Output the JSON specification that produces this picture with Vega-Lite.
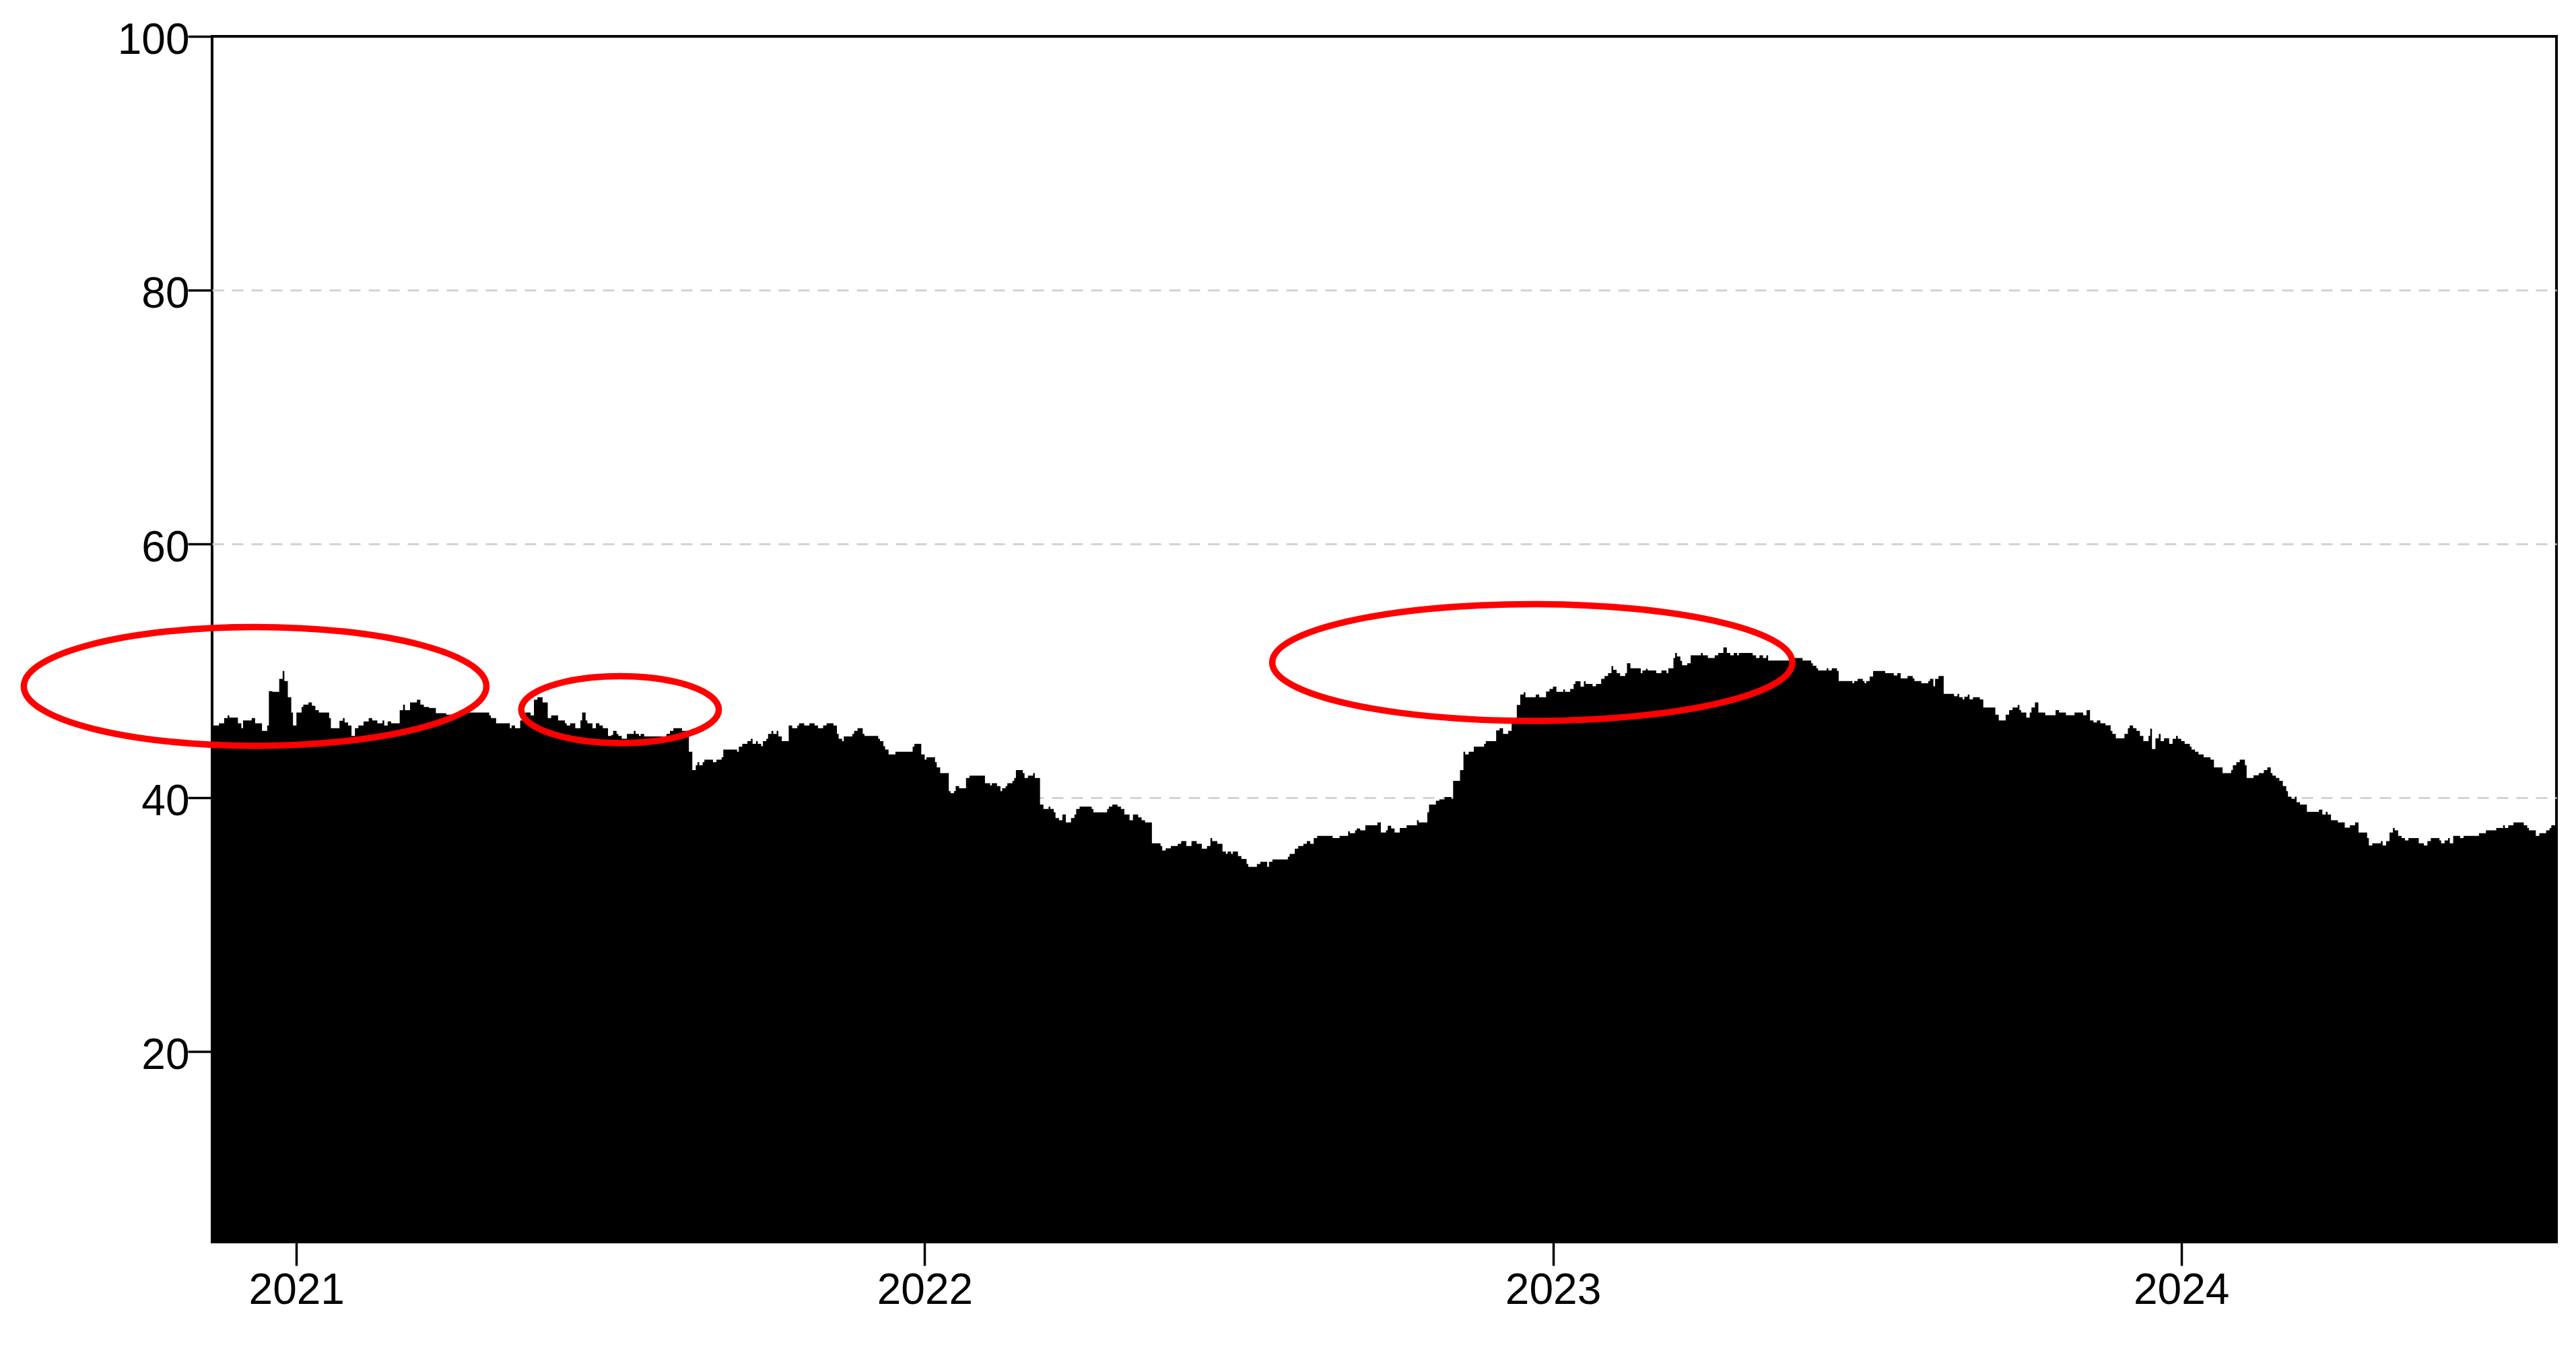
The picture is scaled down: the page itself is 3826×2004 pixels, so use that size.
{
"$schema": "https://vega.github.io/schema/vega-lite/v6.json",
"width": 3482, "height": 1791,
"autosize": {"type": "none"},
"padding": {"left": 315, "top": 54, "right": 29, "bottom": 159},
"background": "white",
"config": {"view": {"stroke": "black", "strokeWidth": 4}},
"encoding": {
 "x": {"field": "date", "type": "temporal",
  "scale": {"domain": [{"year": 2020, "month": 11, "date": 13, "utc": true}, {"year": 2024, "month": 8, "date": 6, "utc": true}], "nice": false},
  "axis": {"format": "%Y", "tickCount": {"interval": "year", "step": 1}, "grid": false, "domain": false, "tickSize": 35, "tickWidth": 3.5, "tickColor": "black", "labelFont": "Liberation Sans", "labelFontSize": 64, "labelColor": "black", "labelPadding": 5, "labelFlush": false, "labelOverlap": false, "title": null}},
 "y": {"field": "value", "type": "quantitative",
  "scale": {"domain": [5, 100], "nice": false, "zero": false},
  "axis": {"values": [20, 40, 60, 80, 100], "grid": true, "gridColor": {"condition": {"test": "datum.value > 90 || datum.value < 30", "value": "transparent"}, "value": "#D3D3D3"}, "gridDash": [17, 12], "gridWidth": 3, "domain": false, "tickSize": 36, "tickWidth": 3.5, "tickColor": "black", "labelFont": "Liberation Sans", "labelFontSize": 64, "labelColor": "black", "labelPadding": -2, "labelOffset": 6, "labelFlush": false, "title": null}}
},
"layer": [
{
"data": {"values": [
{"date":"2020-11-13","value":45.70},{"date":"2020-11-17","value":45.87},{"date":"2020-11-20","value":46.28},{"date":"2020-11-22","value":46.49},{"date":"2020-11-23","value":46.32},{"date":"2020-11-28","value":45.87},{"date":"2020-11-30","value":45.48},{"date":"2020-12-01","value":46.10},{"date":"2020-12-06","value":46.28},{"date":"2020-12-08","value":45.87},{"date":"2020-12-12","value":45.27},{"date":"2020-12-15","value":45.70},{"date":"2020-12-16","value":48.40},{"date":"2020-12-18","value":48.35},{"date":"2020-12-22","value":49.37},{"date":"2020-12-24","value":49.99},{"date":"2020-12-25","value":49.20},{"date":"2020-12-27","value":47.92},{"date":"2020-12-29","value":46.72},{"date":"2020-12-30","value":45.70},
{"date":"2021-01-01","value":46.72},{"date":"2021-01-04","value":47.16},{"date":"2021-01-05","value":47.34},{"date":"2021-01-08","value":47.52},{"date":"2021-01-10","value":47.25},{"date":"2021-01-12","value":46.90},{"date":"2021-01-14","value":46.72},{"date":"2021-01-20","value":46.28},{"date":"2021-01-21","value":45.48},{"date":"2021-01-26","value":46.07},{"date":"2021-01-28","value":46.28},{"date":"2021-01-29","value":45.93},{"date":"2021-01-31","value":45.70},
{"date":"2021-02-02","value":44.87},{"date":"2021-02-04","value":45.48},{"date":"2021-02-06","value":45.70},{"date":"2021-02-09","value":46.02},{"date":"2021-02-12","value":46.28},{"date":"2021-02-14","value":46.10},{"date":"2021-02-17","value":45.87},{"date":"2021-02-20","value":46.10},{"date":"2021-02-21","value":45.70},{"date":"2021-02-23","value":46.02},{"date":"2021-02-25","value":45.87},
{"date":"2021-03-02","value":46.90},{"date":"2021-03-04","value":47.34},{"date":"2021-03-05","value":46.90},{"date":"2021-03-08","value":47.52},{"date":"2021-03-12","value":47.73},{"date":"2021-03-14","value":47.34},{"date":"2021-03-16","value":47.16},{"date":"2021-03-19","value":47.08},{"date":"2021-03-23","value":46.67},{"date":"2021-03-29","value":46.55},
{"date":"2021-04-06","value":46.72},{"date":"2021-04-23","value":46.49},{"date":"2021-04-24","value":46.28},{"date":"2021-04-27","value":45.87},
{"date":"2021-05-05","value":45.48},{"date":"2021-05-06","value":45.70},{"date":"2021-05-08","value":45.48},{"date":"2021-05-11","value":46.10},{"date":"2021-05-14","value":46.72},{"date":"2021-05-17","value":46.49},{"date":"2021-05-19","value":47.73},{"date":"2021-05-21","value":47.92},{"date":"2021-05-24","value":47.52},{"date":"2021-05-27","value":46.28},{"date":"2021-05-29","value":46.49},
{"date":"2021-06-02","value":46.10},{"date":"2021-06-06","value":45.87},{"date":"2021-06-07","value":45.70},{"date":"2021-06-09","value":45.87},{"date":"2021-06-12","value":45.48},{"date":"2021-06-15","value":46.10},{"date":"2021-06-16","value":46.72},{"date":"2021-06-18","value":46.10},{"date":"2021-06-19","value":45.87},{"date":"2021-06-22","value":45.48},{"date":"2021-06-24","value":45.87},{"date":"2021-06-26","value":45.70},{"date":"2021-06-28","value":45.48},
{"date":"2021-07-01","value":44.87},{"date":"2021-07-03","value":44.95},{"date":"2021-07-04","value":45.27},{"date":"2021-07-06","value":45.04},{"date":"2021-07-07","value":44.87},{"date":"2021-07-09","value":44.65},{"date":"2021-07-12","value":45.04},{"date":"2021-07-16","value":45.27},{"date":"2021-07-17","value":45.04},{"date":"2021-07-19","value":44.87},{"date":"2021-07-20","value":45.04},{"date":"2021-07-22","value":44.83},
{"date":"2021-08-04","value":45.04},{"date":"2021-08-06","value":45.27},{"date":"2021-08-08","value":45.48},{"date":"2021-08-13","value":45.27},{"date":"2021-08-17","value":43.63},{"date":"2021-08-19","value":42.18},{"date":"2021-08-21","value":42.57},{"date":"2021-08-22","value":42.80},{"date":"2021-08-23","value":42.57},{"date":"2021-08-25","value":42.80},{"date":"2021-08-26","value":43.01},{"date":"2021-08-31","value":42.80},
{"date":"2021-09-02","value":43.01},{"date":"2021-09-05","value":43.19},{"date":"2021-09-06","value":43.80},{"date":"2021-09-14","value":43.63},{"date":"2021-09-15","value":44.02},{"date":"2021-09-17","value":44.25},{"date":"2021-09-20","value":44.46},{"date":"2021-09-22","value":44.65},{"date":"2021-09-23","value":44.25},{"date":"2021-09-25","value":44.46},{"date":"2021-09-26","value":44.25},{"date":"2021-09-28","value":44.07},{"date":"2021-09-29","value":44.46},
{"date":"2021-10-01","value":44.65},{"date":"2021-10-02","value":45.04},{"date":"2021-10-04","value":45.27},{"date":"2021-10-05","value":45.04},{"date":"2021-10-07","value":45.27},{"date":"2021-10-08","value":44.83},{"date":"2021-10-10","value":44.46},{"date":"2021-10-14","value":45.70},{"date":"2021-10-16","value":45.48},{"date":"2021-10-19","value":45.70},{"date":"2021-10-20","value":45.87},{"date":"2021-10-23","value":45.70},{"date":"2021-10-26","value":45.87},{"date":"2021-10-29","value":45.70},{"date":"2021-10-31","value":45.48},
{"date":"2021-11-03","value":45.70},{"date":"2021-11-05","value":45.87},{"date":"2021-11-09","value":45.70},{"date":"2021-11-11","value":45.04},{"date":"2021-11-12","value":44.65},{"date":"2021-11-14","value":44.46},{"date":"2021-11-15","value":44.83},{"date":"2021-11-20","value":45.04},{"date":"2021-11-21","value":45.27},{"date":"2021-11-23","value":45.48},{"date":"2021-11-26","value":45.04},{"date":"2021-11-27","value":44.87},
{"date":"2021-12-05","value":44.65},{"date":"2021-12-06","value":44.46},{"date":"2021-12-08","value":44.07},{"date":"2021-12-09","value":43.80},{"date":"2021-12-11","value":43.42},{"date":"2021-12-15","value":43.63},{"date":"2021-12-25","value":44.02},{"date":"2021-12-26","value":44.25},{"date":"2021-12-30","value":43.42},
{"date":"2022-01-01","value":43.01},{"date":"2022-01-02","value":43.19},{"date":"2022-01-07","value":42.80},{"date":"2022-01-08","value":42.39},{"date":"2022-01-10","value":41.95},{"date":"2022-01-15","value":40.53},{"date":"2022-01-16","value":40.36},{"date":"2022-01-18","value":40.53},{"date":"2022-01-19","value":40.92},{"date":"2022-01-21","value":40.75},{"date":"2022-01-25","value":41.56},{"date":"2022-01-27","value":41.74},
{"date":"2022-02-05","value":41.15},{"date":"2022-02-08","value":40.98},{"date":"2022-02-09","value":41.15},{"date":"2022-02-12","value":40.92},{"date":"2022-02-14","value":40.53},{"date":"2022-02-15","value":40.75},{"date":"2022-02-17","value":40.92},{"date":"2022-02-18","value":41.15},{"date":"2022-02-21","value":41.33},{"date":"2022-02-22","value":41.56},{"date":"2022-02-23","value":42.18},{"date":"2022-02-27","value":41.95},{"date":"2022-02-28","value":41.56},
{"date":"2022-03-02","value":41.74},{"date":"2022-03-05","value":41.95},{"date":"2022-03-06","value":41.56},{"date":"2022-03-09","value":39.47},{"date":"2022-03-11","value":39.12},{"date":"2022-03-14","value":39.30},{"date":"2022-03-15","value":39.12},{"date":"2022-03-17","value":38.85},{"date":"2022-03-18","value":38.41},{"date":"2022-03-20","value":38.23},{"date":"2022-03-22","value":38.68},{"date":"2022-03-24","value":38.06},{"date":"2022-03-27","value":38.41},{"date":"2022-03-29","value":38.68},{"date":"2022-03-30","value":39.12},
{"date":"2022-04-01","value":39.30},{"date":"2022-04-08","value":39.12},{"date":"2022-04-09","value":38.85},{"date":"2022-04-17","value":39.12},{"date":"2022-04-18","value":39.30},{"date":"2022-04-20","value":39.47},{"date":"2022-04-23","value":39.30},{"date":"2022-04-25","value":39.12},{"date":"2022-04-27","value":38.68},{"date":"2022-04-30","value":38.23},
{"date":"2022-05-02","value":38.68},{"date":"2022-05-05","value":38.46},{"date":"2022-05-07","value":38.23},{"date":"2022-05-09","value":38.06},{"date":"2022-05-13","value":36.41},{"date":"2022-05-18","value":36.20},{"date":"2022-05-19","value":35.85},{"date":"2022-05-21","value":36.02},{"date":"2022-05-24","value":36.20},{"date":"2022-05-28","value":36.38},{"date":"2022-05-30","value":36.59},
{"date":"2022-06-02","value":36.20},{"date":"2022-06-05","value":36.59},{"date":"2022-06-08","value":36.38},{"date":"2022-06-11","value":35.99},{"date":"2022-06-14","value":36.20},{"date":"2022-06-16","value":36.82},{"date":"2022-06-17","value":36.59},{"date":"2022-06-20","value":36.38},{"date":"2022-06-23","value":35.76},{"date":"2022-06-25","value":35.58},{"date":"2022-06-26","value":35.76},{"date":"2022-06-28","value":35.58},{"date":"2022-06-29","value":35.76},
{"date":"2022-07-02","value":35.41},{"date":"2022-07-04","value":35.18},{"date":"2022-07-07","value":34.79},{"date":"2022-07-08","value":34.56},{"date":"2022-07-13","value":34.79},{"date":"2022-07-15","value":34.96},{"date":"2022-07-19","value":34.56},{"date":"2022-07-20","value":34.96},{"date":"2022-07-22","value":35.14},{"date":"2022-07-31","value":35.35},
{"date":"2022-08-01","value":35.58},{"date":"2022-08-04","value":35.99},{"date":"2022-08-06","value":36.20},{"date":"2022-08-09","value":36.38},{"date":"2022-08-11","value":36.59},{"date":"2022-08-13","value":36.38},{"date":"2022-08-15","value":36.82},{"date":"2022-08-17","value":37.00},{"date":"2022-08-26","value":36.82},{"date":"2022-08-30","value":37.00},
{"date":"2022-09-04","value":37.35},{"date":"2022-09-05","value":37.21},{"date":"2022-09-08","value":37.44},{"date":"2022-09-09","value":37.58},{"date":"2022-09-11","value":37.44},{"date":"2022-09-14","value":37.84},{"date":"2022-09-21","value":38.06},{"date":"2022-09-23","value":37.26},{"date":"2022-09-26","value":37.44},{"date":"2022-09-27","value":37.79},{"date":"2022-09-29","value":37.58},
{"date":"2022-10-01","value":37.26},{"date":"2022-10-04","value":37.62},{"date":"2022-10-08","value":37.84},{"date":"2022-10-14","value":38.23},{"date":"2022-10-15","value":38.06},{"date":"2022-10-20","value":38.85},{"date":"2022-10-21","value":39.47},{"date":"2022-10-25","value":39.77},{"date":"2022-10-27","value":39.88},{"date":"2022-10-30","value":40.06},
{"date":"2022-11-03","value":39.91},{"date":"2022-11-04","value":41.33},{"date":"2022-11-08","value":42.18},{"date":"2022-11-10","value":43.63},{"date":"2022-11-11","value":43.42},{"date":"2022-11-13","value":43.63},{"date":"2022-11-16","value":44.02},{"date":"2022-11-22","value":44.25},{"date":"2022-11-23","value":44.46},{"date":"2022-11-29","value":45.31},
{"date":"2022-12-01","value":45.48},{"date":"2022-12-03","value":45.04},{"date":"2022-12-06","value":45.27},{"date":"2022-12-08","value":45.87},{"date":"2022-12-11","value":47.31},{"date":"2022-12-13","value":48.14},{"date":"2022-12-15","value":48.31},{"date":"2022-12-16","value":47.92},{"date":"2022-12-22","value":48.14},{"date":"2022-12-24","value":47.92},{"date":"2022-12-28","value":48.37},{"date":"2022-12-30","value":48.58},
{"date":"2023-01-01","value":48.76},{"date":"2023-01-03","value":48.35},{"date":"2023-01-07","value":48.54},{"date":"2023-01-08","value":48.35},{"date":"2023-01-11","value":48.58},{"date":"2023-01-13","value":48.97},{"date":"2023-01-14","value":49.18},{"date":"2023-01-17","value":48.76},{"date":"2023-01-19","value":49.18},{"date":"2023-01-20","value":48.97},{"date":"2023-01-24","value":48.79},{"date":"2023-01-26","value":48.97},{"date":"2023-01-29","value":49.37},{"date":"2023-01-31","value":49.60},
{"date":"2023-02-02","value":49.82},{"date":"2023-02-04","value":50.38},{"date":"2023-02-05","value":50.08},{"date":"2023-02-07","value":49.82},{"date":"2023-02-09","value":49.60},{"date":"2023-02-12","value":49.82},{"date":"2023-02-13","value":50.61},{"date":"2023-02-15","value":50.21},{"date":"2023-02-21","value":49.82},{"date":"2023-02-22","value":50.03},{"date":"2023-02-24","value":50.17},{"date":"2023-02-25","value":50.03},
{"date":"2023-03-02","value":49.82},{"date":"2023-03-05","value":50.03},{"date":"2023-03-08","value":49.82},{"date":"2023-03-09","value":50.21},{"date":"2023-03-12","value":51.02},{"date":"2023-03-13","value":51.41},{"date":"2023-03-14","value":51.14},{"date":"2023-03-16","value":50.79},{"date":"2023-03-17","value":50.44},{"date":"2023-03-20","value":50.61},{"date":"2023-03-22","value":51.23},{"date":"2023-03-28","value":51.41},{"date":"2023-03-29","value":51.23},
{"date":"2023-04-01","value":51.02},{"date":"2023-04-05","value":51.23},{"date":"2023-04-07","value":51.41},{"date":"2023-04-10","value":51.85},{"date":"2023-04-12","value":51.41},{"date":"2023-04-14","value":51.23},{"date":"2023-04-16","value":51.41},{"date":"2023-04-18","value":51.23},{"date":"2023-04-19","value":51.41},{"date":"2023-04-27","value":51.23},{"date":"2023-04-29","value":51.02},
{"date":"2023-05-01","value":51.23},{"date":"2023-05-03","value":51.02},{"date":"2023-05-05","value":51.23},{"date":"2023-05-06","value":50.82},{"date":"2023-05-19","value":51.02},{"date":"2023-05-26","value":50.82},{"date":"2023-05-31","value":50.61},
{"date":"2023-06-01","value":50.40},{"date":"2023-06-03","value":50.21},{"date":"2023-06-04","value":50.03},{"date":"2023-06-09","value":50.21},{"date":"2023-06-10","value":50.03},{"date":"2023-06-12","value":50.21},{"date":"2023-06-15","value":49.99},{"date":"2023-06-16","value":49.20},{"date":"2023-06-24","value":49.02},{"date":"2023-06-25","value":49.20},{"date":"2023-06-27","value":49.37},{"date":"2023-06-30","value":49.20},
{"date":"2023-07-01","value":49.02},{"date":"2023-07-02","value":49.20},{"date":"2023-07-04","value":49.55},{"date":"2023-07-06","value":49.99},{"date":"2023-07-13","value":49.82},{"date":"2023-07-18","value":49.64},{"date":"2023-07-20","value":49.82},{"date":"2023-07-22","value":49.41},{"date":"2023-07-26","value":49.59},{"date":"2023-07-29","value":49.41},{"date":"2023-07-30","value":49.20},
{"date":"2023-08-03","value":49.02},{"date":"2023-08-07","value":49.20},{"date":"2023-08-08","value":49.37},{"date":"2023-08-10","value":48.79},{"date":"2023-08-11","value":49.37},{"date":"2023-08-13","value":49.59},{"date":"2023-08-16","value":48.19},{"date":"2023-08-22","value":48.01},{"date":"2023-08-24","value":48.19},{"date":"2023-08-25","value":47.92},{"date":"2023-08-27","value":47.75},{"date":"2023-08-28","value":47.96},{"date":"2023-08-30","value":48.14},{"date":"2023-08-31","value":47.75},
{"date":"2023-09-02","value":47.92},{"date":"2023-09-06","value":47.75},{"date":"2023-09-08","value":47.11},{"date":"2023-09-15","value":46.55},{"date":"2023-09-17","value":46.10},{"date":"2023-09-21","value":46.55},{"date":"2023-09-23","value":46.90},{"date":"2023-09-25","value":47.11},{"date":"2023-09-28","value":47.31},{"date":"2023-09-29","value":46.90},{"date":"2023-09-30","value":46.72},
{"date":"2023-10-03","value":46.32},{"date":"2023-10-05","value":46.72},{"date":"2023-10-06","value":47.11},{"date":"2023-10-08","value":47.52},{"date":"2023-10-10","value":46.72},{"date":"2023-10-14","value":46.51},{"date":"2023-10-20","value":46.90},{"date":"2023-10-22","value":46.72},{"date":"2023-10-26","value":46.51},{"date":"2023-10-31","value":46.72},
{"date":"2023-11-05","value":46.51},{"date":"2023-11-07","value":46.90},{"date":"2023-11-09","value":46.10},{"date":"2023-11-11","value":45.93},{"date":"2023-11-13","value":46.10},{"date":"2023-11-15","value":45.87},{"date":"2023-11-18","value":45.71},{"date":"2023-11-21","value":45.27},{"date":"2023-11-22","value":45.04},{"date":"2023-11-24","value":44.69},{"date":"2023-11-29","value":45.04},
{"date":"2023-12-01","value":45.48},{"date":"2023-12-02","value":45.70},{"date":"2023-12-04","value":45.48},{"date":"2023-12-06","value":45.27},{"date":"2023-12-08","value":44.87},{"date":"2023-12-10","value":44.46},{"date":"2023-12-13","value":44.87},{"date":"2023-12-14","value":45.45},{"date":"2023-12-15","value":43.84},{"date":"2023-12-17","value":44.69},{"date":"2023-12-19","value":45.04},{"date":"2023-12-20","value":44.46},{"date":"2023-12-22","value":44.69},{"date":"2023-12-25","value":44.25},{"date":"2023-12-27","value":44.65},{"date":"2023-12-29","value":44.87},{"date":"2023-12-30","value":44.65},
{"date":"2024-01-01","value":44.46},{"date":"2024-01-03","value":44.25},{"date":"2024-01-06","value":44.02},{"date":"2024-01-07","value":43.80},{"date":"2024-01-09","value":43.63},{"date":"2024-01-11","value":43.42},{"date":"2024-01-14","value":43.19},{"date":"2024-01-18","value":43.01},{"date":"2024-01-20","value":42.39},{"date":"2024-01-25","value":41.95},{"date":"2024-01-30","value":42.18},{"date":"2024-01-31","value":42.57},
{"date":"2024-02-02","value":42.80},{"date":"2024-02-04","value":43.01},{"date":"2024-02-07","value":42.57},{"date":"2024-02-08","value":41.56},{"date":"2024-02-12","value":41.77},{"date":"2024-02-15","value":41.95},{"date":"2024-02-18","value":42.18},{"date":"2024-02-20","value":42.39},{"date":"2024-02-22","value":41.95},{"date":"2024-02-23","value":41.74},{"date":"2024-02-25","value":41.56},{"date":"2024-02-27","value":41.33},{"date":"2024-02-29","value":40.92},
{"date":"2024-03-02","value":40.53},{"date":"2024-03-03","value":40.09},{"date":"2024-03-05","value":39.91},{"date":"2024-03-07","value":40.09},{"date":"2024-03-08","value":39.65},{"date":"2024-03-10","value":39.47},{"date":"2024-03-14","value":38.89},{"date":"2024-03-21","value":39.07},{"date":"2024-03-23","value":38.68},{"date":"2024-03-25","value":38.89},{"date":"2024-03-26","value":38.68},{"date":"2024-03-28","value":38.23},
{"date":"2024-04-01","value":38.06},{"date":"2024-04-05","value":37.65},{"date":"2024-04-08","value":37.84},{"date":"2024-04-11","value":38.06},{"date":"2024-04-13","value":37.26},{"date":"2024-04-18","value":36.82},{"date":"2024-04-19","value":36.24},{"date":"2024-04-21","value":36.41},{"date":"2024-04-26","value":36.59},{"date":"2024-04-27","value":36.24},{"date":"2024-04-29","value":36.59},
{"date":"2024-05-01","value":37.26},{"date":"2024-05-03","value":37.62},{"date":"2024-05-04","value":37.44},{"date":"2024-05-06","value":37.00},{"date":"2024-05-08","value":36.82},{"date":"2024-05-10","value":36.64},{"date":"2024-05-12","value":36.82},{"date":"2024-05-18","value":36.41},{"date":"2024-05-21","value":36.24},{"date":"2024-05-23","value":36.59},{"date":"2024-05-25","value":36.82},{"date":"2024-05-30","value":36.64},{"date":"2024-05-31","value":36.41},
{"date":"2024-06-02","value":36.64},{"date":"2024-06-04","value":36.82},{"date":"2024-06-05","value":36.41},{"date":"2024-06-07","value":37.00},{"date":"2024-06-11","value":36.82},{"date":"2024-06-13","value":37.00},{"date":"2024-06-22","value":37.21},{"date":"2024-06-26","value":37.44},
{"date":"2024-07-02","value":37.62},{"date":"2024-07-06","value":37.84},{"date":"2024-07-07","value":37.62},{"date":"2024-07-09","value":37.84},{"date":"2024-07-12","value":38.06},{"date":"2024-07-18","value":37.84},{"date":"2024-07-20","value":37.62},{"date":"2024-07-21","value":37.44},{"date":"2024-07-25","value":37.00},{"date":"2024-07-27","value":37.21},{"date":"2024-07-31","value":37.44},
{"date":"2024-08-02","value":37.62},{"date":"2024-08-03","value":37.84},{"date":"2024-08-06","value":37.84}
]},
"mark": {"type": "area", "interpolate": "step-after", "color": "black", "clip": true}
},
{
"data": {"values": [{"date": "2020-12-08", "value": 48.78}]},
"mark": {"type": "point", "shape": "M1,0C1,0.1419 0.5523,0.2569 0,0.2569C-0.5523,0.2569 -1,0.1419 -1,0C-1,-0.1419 -0.5523,-0.2569 0,-0.2569C0.5523,-0.2569 1,-0.1419 1,0Z", "size": 471969, "filled": false, "color": "#FF0000", "stroke": "#FF0000", "strokeWidth": 9.5, "opacity": 1}
},
{
"data": {"values": [{"date": "2021-07-08", "value": 46.95}]},
"mark": {"type": "point", "shape": "M1,0C1,0.1872 0.5523,0.3390 0,0.3390C-0.5523,0.3390 -1,0.1872 -1,0C-1,-0.1872 -0.5523,-0.3390 0,-0.3390C0.5523,-0.3390 1,-0.1872 1,0Z", "size": 86142, "filled": false, "color": "#FF0000", "stroke": "#FF0000", "strokeWidth": 9.5, "opacity": 1}
},
{
"data": {"values": [{"date": "2022-12-20", "value": 50.66}]},
"mark": {"type": "point", "shape": "M1,0C1,0.1240 0.5523,0.2246 0,0.2246C-0.5523,0.2246 -1,0.1240 -1,0C-1,-0.1240 -0.5523,-0.2246 0,-0.2246C0.5523,-0.2246 1,-0.1240 1,0Z", "size": 596756, "filled": false, "color": "#FF0000", "stroke": "#FF0000", "strokeWidth": 9.5, "opacity": 1}
}
]
}
